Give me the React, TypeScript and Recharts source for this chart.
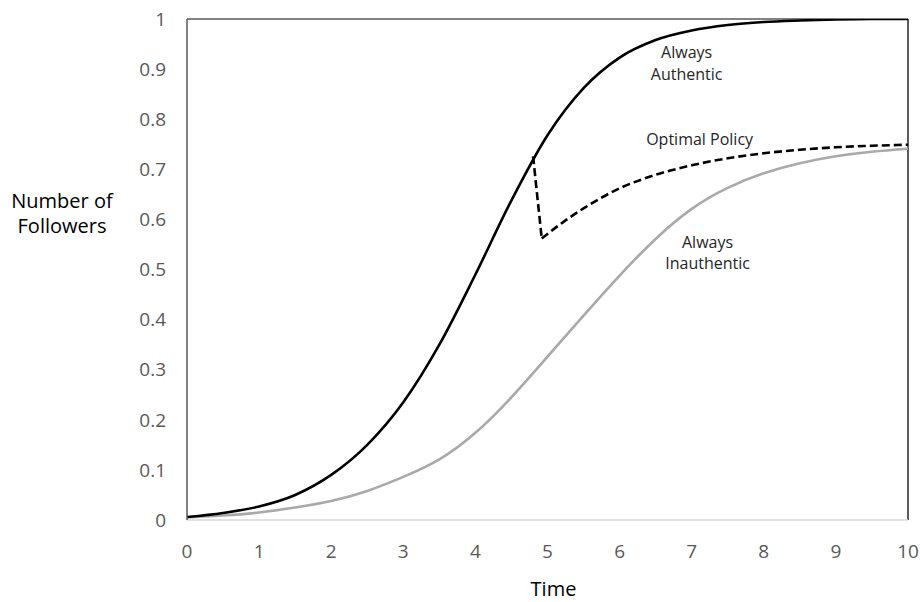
import React from "react";
import {
  LineChart,
  Line,
  XAxis,
  YAxis,
  ReferenceLine,
  ReferenceDot,
  Label,
} from "recharts";

const time = [0, 0.5, 1, 1.5, 2, 2.5, 3, 3.5, 4, 4.5, 5, 5.5, 6, 6.5, 7, 7.5, 8, 8.5, 9, 9.5, 10];
const alwaysAuthentic = [
  0.006, 0.014, 0.027, 0.05, 0.09, 0.15, 0.235, 0.35, 0.49, 0.638, 0.768, 0.862, 0.923, 0.958,
  0.977, 0.988, 0.994, 0.997, 0.999, 1.0, 1.0,
];
const alwaysInauthentic = [
  0.005, 0.009, 0.015, 0.025, 0.038, 0.058, 0.086, 0.121, 0.174, 0.245, 0.326, 0.408, 0.488, 0.561,
  0.621, 0.663, 0.692, 0.712, 0.726, 0.735, 0.741,
];
const optimalTime = [4.8, 4.92, 5.25, 5.5, 6, 6.5, 7, 7.5, 8, 8.5, 9, 9.5, 10];
const optimalPolicy = [0.726, 0.562, 0.598, 0.622, 0.662, 0.689, 0.708, 0.722, 0.732, 0.739, 0.744, 0.747, 0.749];

const xTicks = [0, 1, 2, 3, 4, 5, 6, 7, 8, 9, 10];
const yTicks = [0, 0.1, 0.2, 0.3, 0.4, 0.5, 0.6, 0.7, 0.8, 0.9, 1];

const annotationX = [6.93, 7.11, 7.22];
const annotationY = [0.912, 0.76, 0.534];
const annotationText = [["Always", "Authentic"], ["Optimal Policy"], ["Always", "Inauthentic"]];

const rows = time.map((t, i) => ({ t, authentic: alwaysAuthentic[i], inauthentic: alwaysInauthentic[i] }));
const optimalRows = optimalTime.map((t, i) => ({ t, v: optimalPolicy[i] }));
const optimalDrop = optimalRows.slice(0, 2);
const optimalRecovery = optimalRows.slice(1);

const FONT = "'Open Sans', sans-serif";

const makeAnnotation = (lines: string[]) => (props: any) => {
  const { cx, cy } = props;
  const lh = 21.5;
  const start = cy - ((lines.length - 1) * lh) / 2;
  return (
    <text
      x={cx}
      y={start}
      textAnchor="middle"
      dominantBaseline="central"
      fontFamily={FONT}
      fontSize={16}
      fill="#262626"
    >
      {lines.map((l, i) => (
        <tspan key={i} x={cx} y={start + i * lh}>
          {l}
        </tspan>
      ))}
    </text>
  );
};

const YTitle = (props: any) => {
  const vb = props.viewBox || { x: 0, y: 19 };
  const cx = vb.x + 62;
  return (
    <text textAnchor="middle" fontFamily={FONT} fontSize={20} fill="#000">
      <tspan x={cx} y={vb.y + 189}>Number of</tspan>
      <tspan x={cx} y={vb.y + 214}>Followers</tspan>
    </text>
  );
};

export default function App() {
  return (
    <div style={{ position: "absolute", left: 0, top: 0, background: "#fff" }}>
      <LineChart
        width={920}
        height={602}
        data={rows}
        margin={{ top: 19, right: 12, bottom: 0, left: 0 }}
      >
        <XAxis
          dataKey="t"
          type="number"
          domain={[0, 10]}
          ticks={xTicks}
          height={82}
          tickLine={false}
          tickSize={0}
          tickMargin={25}
          axisLine={{ stroke: "#d9d9d9", strokeWidth: 1.5 }}
          tick={{ fill: "#595959", fontSize: 19, fontFamily: FONT }}
          allowDataOverflow
        >
          <Label
            value="Time"
            position="insideBottom"
            offset={6}
            dx={6}
            style={{ fill: "#000", fontSize: 20, fontFamily: FONT }}
          />
        </XAxis>
        <YAxis
          type="number"
          domain={[0, 1]}
          ticks={yTicks}
          width={187}
          tickLine={false}
          tickSize={0}
          tickMargin={21}
          axisLine={{ stroke: "#595959", strokeWidth: 1.5 }}
          tick={{ fill: "#595959", fontSize: 19, fontFamily: FONT }}
          allowDataOverflow
        >
          <Label content={<YTitle />} />
        </YAxis>
        <ReferenceLine y={1} stroke="#595959" strokeWidth={1.5} />
        <ReferenceLine x={10} stroke="#262626" strokeWidth={1.5} />
        <Line
          dataKey="inauthentic"
          type="natural"
          stroke="#a9a9a9"
          strokeWidth={2.6}
          dot={false}
          isAnimationActive={false}
        />
        <Line
          data={optimalDrop}
          dataKey="v"
          type="linear"
          stroke="#000"
          strokeWidth={2.6}
          strokeDasharray="8 4"
          dot={false}
          isAnimationActive={false}
        />
        <Line
          data={optimalRecovery}
          dataKey="v"
          type="monotone"
          stroke="#000"
          strokeWidth={2.6}
          strokeDasharray="8 4"
          dot={false}
          isAnimationActive={false}
        />
        <Line
          dataKey="authentic"
          type="monotone"
          stroke="#000"
          strokeWidth={2.6}
          dot={false}
          isAnimationActive={false}
        />
        {annotationText.map((lines, i) => (
          <ReferenceDot
            key={i}
            x={annotationX[i]}
            y={annotationY[i]}
            r={0}
            shape={makeAnnotation(lines)}
          />
        ))}
      </LineChart>
    </div>
  );
}
